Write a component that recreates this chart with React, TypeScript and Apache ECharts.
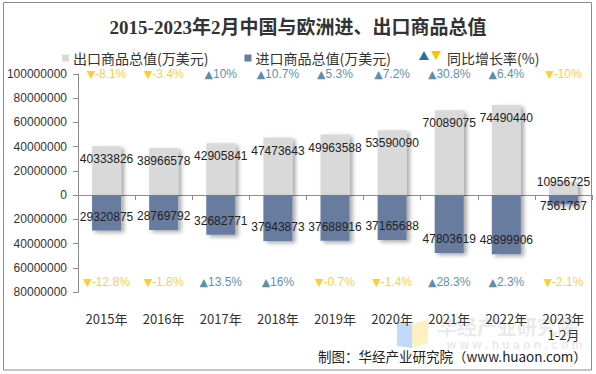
import React, { useEffect, useRef } from "react";
import * as echarts from "echarts";

const categories = ["2015年", "2016年", "2017年", "2018年", "2019年", "2020年", "2021年", "2022年", "2023年\n1-2月"];
const exportValues = [40333826, 38966578, 42905841, 47473643, 49963588, 53590090, 70089075, 74490440, 10956725];
const importValues = [29320875, 28769792, 32682771, 37943873, 37688916, 37165688, 47803619, 48899906, 7561767];
const exportGrowth = [-8.1, -3.4, 10, 10.7, 5.3, 7.2, 30.8, 6.4, -10];
const importGrowth = [-12.8, -1.8, 13.5, 16, -0.7, -1.4, 28.3, 2.3, -2.1];
const yTicks = { min: -80000000, max: 100000000, interval: 20000000 };
const growthRowAnchors = { exportRow: 100000000, importRow: -72000000 };

const UP = "#2f7096";
const DOWN = "#ffc000";
const FONT = "'Liberation Sans', Arial, 'Noto Sans CJK SC', sans-serif";
const CJK = "'Noto Sans CJK SC', 'Liberation Sans', sans-serif";

export default function App() {
  const ref = useRef<HTMLDivElement>(null);
  useEffect(() => {
    if (!ref.current) return;
    const chart = echarts.init(ref.current, undefined, { renderer: "svg" });
    const last = categories.length - 1;
    const growthLabel = (g: number) => (g >= 0 ? "{t|▲}" : "{t|▼}") + g + "%";
    const growthRich = { t: { fontFamily: "'DejaVu Sans', sans-serif", fontSize: 11 } };
    const option: any = {
      animation: false,
      backgroundColor: "#ffffff",
      title: {
        text: "2015-2023年2月中国与欧洲进、出口商品总值",
        left: "center",
        top: 13,
        textStyle: { fontFamily: "'Liberation Serif', 'Noto Sans CJK SC', serif", fontWeight: "bold", fontSize: 19, color: "#333" },
      },
      legend: {
        left: 62,
        top: 51,
        padding: 0,
        itemWidth: 7,
        itemHeight: 7,
        itemGap: 36,
        icon: "rect",
        textStyle: { fontFamily: CJK, fontSize: 14, color: "#333", padding: [0, 0, 0, -1] },
        data: ["出口商品总值(万美元)", "进口商品总值(万美元)"],
      },
      grid: { left: 78, right: 4, top: 74, bottom: 82, containLabel: false, outerBoundsMode: "none" },
      xAxis: {
        type: "category",
        data: categories,
        axisLine: { onZero: true, lineStyle: { color: "#8c8c8c" } },
        axisTick: { show: true, length: 5, lineStyle: { color: "#8c8c8c" } },
        axisLabel: { margin: 18, fontSize: 13, color: "#333", fontFamily: CJK, lineHeight: 16, interval: 0, hideOverlap: false, verticalAlign: "top" },
      },
      yAxis: {
        type: "value",
        min: yTicks.min,
        max: yTicks.max,
        interval: yTicks.interval,
        axisLine: { show: true, lineStyle: { color: "#8c8c8c" } },
        axisTick: { show: true, length: 5, lineStyle: { color: "#8c8c8c" } },
        splitLine: { show: false },
        axisLabel: { margin: 11, fontSize: 12, color: "#333", fontFamily: FONT, formatter: (v: number) => String(Math.abs(v)) },
      },
      series: [
        {
          name: "出口商品总值(万美元)",
          type: "bar",
          stack: "total",
          barWidth: 29,
          itemStyle: { color: "#d9d9d9", shadowBlur: 4, shadowColor: "rgba(0,0,0,0.35)", shadowOffsetX: 3, shadowOffsetY: 2 },
          label: { show: true, position: "insideTop", distance: 7, fontSize: 12, color: "#222", fontFamily: FONT, formatter: (p: any) => String(Math.abs(p.value)) },
          data: exportValues.map((v, i) =>
            i === last ? { value: v, label: { position: "top", distance: -6 } } : v
          ),
        },
        {
          name: "进口商品总值(万美元)",
          type: "bar",
          stack: "total",
          barWidth: 29,
          itemStyle: { color: "#687ba0", shadowBlur: 4, shadowColor: "rgba(0,0,0,0.35)", shadowOffsetX: 3, shadowOffsetY: 2 },
          label: { show: true, position: "insideBottom", distance: 8, fontSize: 12, color: "#222", fontFamily: FONT, formatter: (p: any) => String(Math.abs(p.value)) },
          data: importValues.map((v, i) =>
            i === last ? { value: -v, label: { position: "bottom", distance: -4 } } : -v
          ),
        },
        {
          name: "出口同比",
          type: "scatter",
          symbolSize: 0,
          silent: true,
          z: 5,
          label: { show: true, position: "inside", fontSize: 12, fontFamily: FONT, rich: growthRich, formatter: (p: any) => growthLabel(p.value[2]) },
          data: exportGrowth.map((g, i) => ({ value: [i, growthRowAnchors.exportRow, g], label: { color: g >= 0 ? UP : DOWN } })),
        },
        {
          name: "进口同比",
          type: "scatter",
          symbolSize: 0,
          silent: true,
          z: 5,
          label: { show: true, position: "inside", fontSize: 12, fontFamily: FONT, rich: growthRich, formatter: (p: any) => growthLabel(p.value[2]) },
          data: importGrowth.map((g, i) => ({ value: [i, growthRowAnchors.importRow, g], label: { color: g >= 0 ? UP : DOWN } })),
        },
      ],
      graphic: [
        { type: "polygon", shape: { points: [[419, 60], [429, 60], [424, 51]] }, style: { fill: UP } },
        { type: "polygon", shape: { points: [[431, 51], [441, 51], [436, 60]] }, style: { fill: DOWN } },
        { type: "text", x: 447, y: 58, style: { text: "同比增长率(%)", fontSize: 14, fontFamily: CJK, fill: "#333", verticalAlign: "middle" } },
        // watermark
        { type: "polygon", silent: true, shape: { points: [[397, 322], [412, 324], [412, 348], [397, 346]] }, style: { fill: "rgba(120,170,240,0.45)" }, z: 0 },
        { type: "polygon", silent: true, shape: { points: [[412, 324], [428, 319], [428, 343], [412, 348]] }, style: { fill: "rgba(250,225,120,0.45)" }, z: 0 },
        { type: "text", silent: true, x: 437, y: 326, style: { text: "华经产业研究院", fontSize: 20, fontWeight: "bold", fontFamily: CJK, fill: "rgba(200,200,200,0.4)", verticalAlign: "middle" }, z: 0 },
        { type: "text", silent: true, x: 447, y: 345, style: { text: "w w w . h u a o n . c o m", fontSize: 12, fontWeight: "bold", fontFamily: FONT, fill: "rgba(200,200,200,0.4)", verticalAlign: "middle" }, z: 0 },
        { type: "text", x: 318, y: 356, style: { text: "制图：华经产业研究院（www.huaon.com）", fontSize: 13.5, fontFamily: CJK, fill: "#222", verticalAlign: "middle" }, z: 10 },
        { type: "rect", shape: { x: 3.5, y: 2.5, width: 588, height: 367.5 }, style: { fill: "none", stroke: "#8c8c8c", lineWidth: 1 }, z: 10 },
      ],
    };
    chart.setOption(option);
    return () => chart.dispose();
  }, []);
  return <div ref={ref} style={{ position: "fixed", left: 0, top: 0, width: 596, height: 374 }} />;
}
